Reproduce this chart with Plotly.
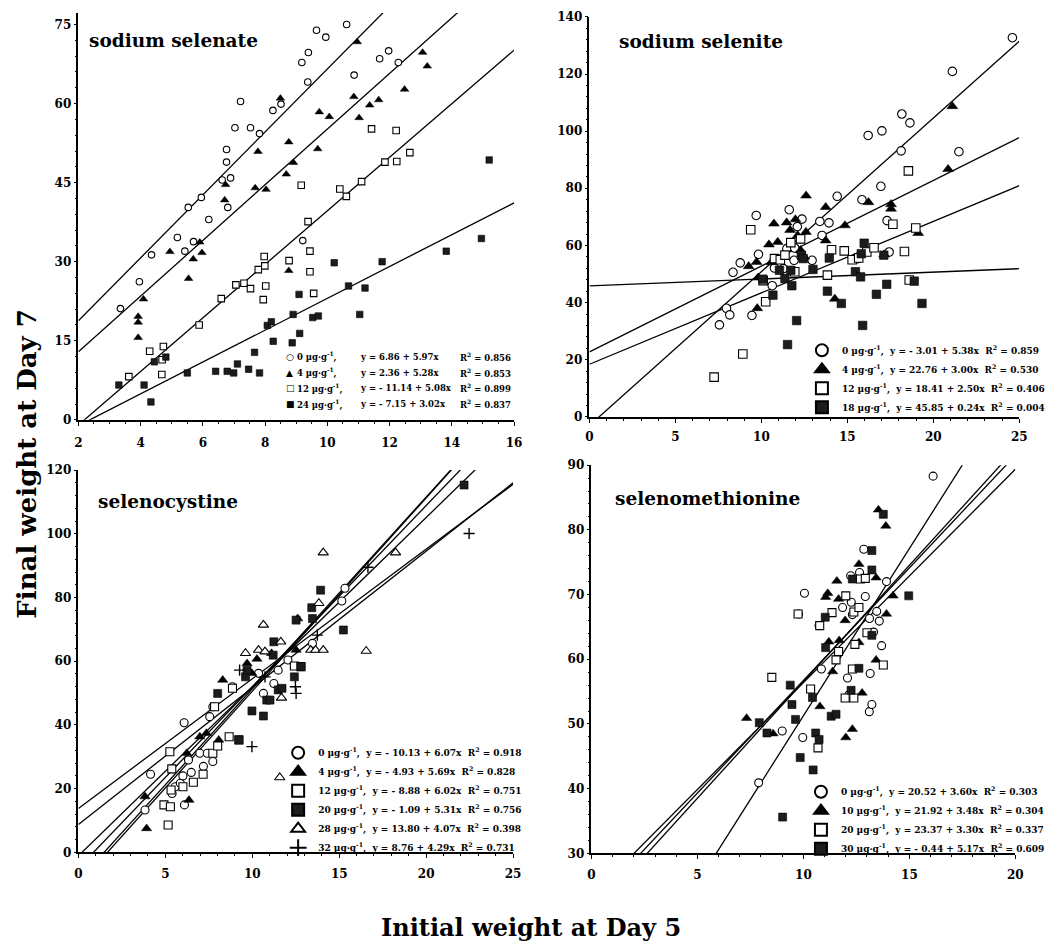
import plotly.graph_objects as go

FONT = "DejaVu Serif"
W, H = 1050, 951

# ---------------- Panel A: sodium selenate ----------------
A_doses = ["0", "4", "12", "24"]
A_intercepts = [6.86, 2.36, -11.14, -7.15]
A_slopes = [5.97, 5.28, 5.08, 3.02]
A_r2 = [0.856, 0.853, 0.899, 0.837]

A_x0 = [3.35, 3.96, 4.35, 5.18, 5.42, 5.53, 5.70, 5.95, 6.19, 6.62, 6.76, 6.76, 6.80, 6.89,
        7.03, 7.21, 7.53, 7.82, 8.25, 8.51, 9.18, 9.37, 9.39, 9.21, 9.65, 9.95, 10.62,
        10.86, 11.68, 11.97, 12.28]
A_y0 = [21.1, 26.2, 31.3, 34.6, 32.0, 40.3, 33.8, 42.2, 38.0, 45.5, 48.9, 51.3, 40.3, 45.9,
        55.4, 60.4, 55.4, 54.3, 58.7, 59.9, 67.8, 64.1, 69.7, 34.0, 73.9, 72.6, 75.0,
        65.4, 68.5, 70.0, 67.8]
A_x4 = [3.92, 3.92, 3.92, 4.09, 4.94, 5.54, 5.69, 5.90, 5.97, 6.73, 6.70, 7.68, 7.77, 8.03,
        8.49, 8.68, 8.76, 8.76, 8.91, 9.69, 9.74, 10.06, 10.85, 10.96, 11.02, 11.36, 11.65,
        12.48, 13.06, 13.21]
A_y4 = [15.6, 19.6, 18.5, 22.9, 31.9, 26.8, 30.5, 33.7, 31.7, 44.6, 41.7, 44.0, 50.9, 43.7,
        61.0, 46.6, 52.7, 28.3, 48.8, 51.4, 58.4, 57.5, 61.3, 71.7, 57.3, 59.7, 60.7,
        62.7, 69.7, 67.1]
A_x12 = [3.62, 4.29, 4.68, 4.73, 4.69, 5.88, 6.59, 7.06, 7.32, 7.53, 7.78, 7.94, 7.97, 7.99,
         8.02, 8.77, 9.16, 9.38, 9.44, 9.44, 9.56, 10.40, 10.61, 11.10, 11.42, 11.85, 12.21,
         12.23, 12.65]
A_y12 = [8.2, 13.0, 8.6, 13.9, 11.4, 18.0, 23.0, 25.6, 25.9, 24.9, 28.5, 22.8, 31.0, 29.2,
         25.4, 30.2, 44.5, 37.6, 32.0, 28.1, 24.0, 43.8, 42.4, 45.2, 55.2, 48.9, 54.9,
         49.0, 50.7]
A_x24 = [3.30, 4.11, 4.33, 4.44, 4.81, 5.50, 6.41, 6.78, 6.99, 7.11, 7.47, 7.66, 7.82, 8.07,
         8.20, 8.26, 8.87, 8.90, 9.09, 9.11, 9.53, 9.71, 10.22, 10.68, 11.04, 11.21, 11.76,
         13.82, 14.95, 15.20]
A_y24 = [6.6, 6.6, 3.4, 11.0, 11.9, 8.9, 9.2, 9.2, 8.9, 10.6, 9.6, 12.8, 8.9, 17.9,
         18.6, 14.9, 14.6, 20.0, 23.8, 16.4, 19.4, 19.7, 29.8, 25.4, 20.0, 25.0, 30.0,
         32.0, 34.4, 49.3]

# ---------------- Panel B: sodium selenite ----------------
B_doses = ["0", "4", "12", "18"]
B_intercepts = [-3.01, 22.76, 18.41, 45.85]
B_slopes = [5.38, 3.00, 2.50, 0.24]
B_r2 = [0.859, 0.530, 0.406, 0.004]

B_x0 = [7.56, 7.97, 8.16, 8.35, 8.77, 9.45, 9.70, 9.83, 10.63, 10.76, 11.28, 11.62, 11.90,
        12.09, 12.36, 11.48, 11.94, 12.95, 13.40, 13.53, 13.93, 14.41, 15.62, 15.85, 16.21,
        16.95, 17.01, 17.31, 17.43, 18.13, 18.17, 18.64, 21.11, 21.49, 24.60]
B_y0 = [32.2, 38.0, 35.7, 50.6, 53.9, 35.5, 70.5, 56.9, 45.9, 52.1, 51.9, 72.5, 54.8,
        66.6, 69.2, 58.9, 59.1, 54.8, 68.4, 63.5, 67.9, 77.2, 55.4, 76.0, 98.5,
        80.7, 100.1, 68.7, 57.7, 93.1, 106.0, 102.9, 120.9, 92.8, 132.7]
B_x4 = [9.26, 9.72, 9.76, 9.81, 10.44, 10.73, 10.58, 10.95, 11.47, 11.67, 11.98, 12.11,
        12.28, 12.49, 12.60, 12.59, 13.74, 13.74, 14.27, 14.86, 16.23, 17.14, 17.54, 17.54,
        19.12, 20.86, 21.11]
B_y4 = [52.7, 54.2, 38.0, 48.7, 60.3, 67.6, 54.1, 61.2, 68.0, 65.4, 69.1, 63.5,
        58.3, 56.0, 77.4, 64.7, 73.4, 61.7, 41.3, 67.0, 75.1, 56.8, 72.8, 74.4,
        64.3, 86.7, 108.7]
B_x12 = [7.25, 8.92, 9.38, 10.10, 10.25, 10.76, 11.10, 11.37, 11.71, 11.94, 12.28, 13.84,
         14.08, 14.82, 15.28, 15.66, 16.13, 16.55, 17.65, 18.32, 18.55, 18.60, 18.98]
B_y12 = [13.9, 22.0, 65.5, 47.7, 40.3, 55.4, 55.0, 56.6, 61.0, 50.8, 62.3, 49.6,
         58.5, 58.1, 55.0, 55.6, 57.7, 59.2, 67.4, 57.9, 86.1, 47.9, 66.1]
B_x18 = [10.08, 10.67, 11.05, 11.37, 11.52, 11.71, 11.77, 12.05, 12.32, 12.43, 13.00, 13.84,
         13.95, 14.65, 15.47, 15.77, 15.89, 15.98, 15.81, 16.69, 17.12, 17.29, 18.89, 19.34]
B_y18 = [48.2, 42.6, 51.3, 48.4, 25.3, 51.3, 45.9, 33.7, 56.6, 55.4, 51.6, 44.0,
         55.6, 39.7, 50.8, 49.0, 32.0, 60.8, 57.1, 42.9, 56.6, 46.4, 47.5, 39.7]

# ---------------- Panel C: selenocystine ----------------
C_doses = ["0", "4", "12", "20", "28", "32"]
C_intercepts = [-10.13, -4.93, -8.88, -1.09, 13.80, 8.76]
C_slopes = [6.07, 5.69, 6.02, 5.31, 4.07, 4.29]
C_r2 = [0.918, 0.828, 0.751, 0.756, 0.398, 0.731]

C_x0 = [3.83, 4.15, 5.39, 5.57, 5.86, 6.01, 6.08, 6.10, 6.49, 6.33, 6.98, 7.19, 7.41, 7.73,
        7.55, 7.73, 8.86, 10.36, 10.64, 11.24, 11.49, 12.05, 13.46, 15.15, 15.33]
C_y0 = [13.3, 24.5, 18.5, 20.6, 21.7, 24.0, 40.7, 14.9, 25.1, 29.0, 31.1, 27.0, 31.1, 28.5,
        42.6, 45.7, 52.0, 56.2, 49.9, 53.0, 57.2, 60.4, 65.6, 78.9, 82.9]
C_x4 = [3.83, 3.92, 6.36, 6.23, 6.98, 7.36, 8.07, 8.30, 9.70, 10.27, 9.98, 11.11, 12.61, 12.52]
C_y4 = [17.5, 7.5, 16.4, 31.1, 36.3, 37.4, 35.3, 54.1, 59.3, 60.7, 56.2, 62.5, 73.4, 63.5]
C_x12 = [4.92, 5.29, 5.16, 5.26, 5.37, 5.33, 6.01, 6.61, 7.17, 7.73, 8.01, 7.83, 8.67, 8.86,
         9.23, 12.42, 12.80]
C_y12 = [14.9, 14.3, 8.6, 31.6, 26.2, 19.6, 20.6, 22.0, 24.5, 31.1, 33.4, 45.7, 36.3, 51.5,
         35.3, 58.5, 58.3]
C_x20 = [8.01, 9.23, 9.61, 9.70, 9.98, 10.64, 10.83, 11.02, 11.24, 11.20, 11.49, 11.71, 12.42,
         12.52, 12.80, 13.42, 13.46, 13.93, 15.24, 22.18]
C_y20 = [49.9, 35.3, 55.1, 57.2, 44.4, 42.8, 47.8, 47.8, 66.1, 61.9, 51.0, 51.5, 55.1,
         72.9, 58.3, 76.8, 73.4, 82.3, 69.8, 115.3]
C_x28 = [11.58, 9.61, 10.36, 10.64, 10.73, 11.64, 11.68, 13.36, 13.64, 13.83, 14.08, 14.08,
         16.55, 18.24]
C_y28 = [23.5, 62.5, 63.5, 71.4, 63.0, 66.1, 48.5, 63.5, 63.5, 78.2, 63.5, 94.1,
         63.2, 94.1]
C_x32 = [9.98, 9.27, 12.52, 12.48, 16.65, 22.47, 13.74, 10.73]
C_y32 = [33.2, 57.2, 49.9, 52.0, 89.5, 100.1, 68.2, 55.1]

# ---------------- Panel D: selenomethionine ----------------
D_doses = ["0", "10", "20", "30"]
D_intercepts = [20.52, 21.92, 23.37, -0.44]
D_slopes = [3.60, 3.48, 3.30, 5.17]
D_r2 = [0.303, 0.304, 0.337, 0.609]

D_x0 = [7.89, 9.00, 9.77, 9.97, 10.05, 10.74, 10.85, 11.85, 12.08, 12.15, 12.23, 12.26, 12.31,
        12.65, 12.85, 12.92, 13.12, 13.15, 13.11, 13.23, 13.31, 13.46, 13.58, 13.69, 13.92,
        16.12]
D_y0 = [40.9, 48.9, 67.0, 47.9, 70.2, 65.2, 58.5, 68.0, 57.1, 54.5, 72.9, 68.8, 66.9,
        73.4, 77.0, 69.7, 66.3, 57.8, 51.9, 53.0, 64.2, 67.4, 65.9, 62.1, 72.0, 88.3]
D_x10 = [7.32, 8.57, 10.78, 11.05, 11.15, 11.20, 11.38, 11.58, 11.66, 11.69, 11.97, 12.00,
         12.31, 12.62, 12.77, 13.43, 13.54, 13.89, 13.92, 14.23, 13.43, 12.62]
D_y10 = [50.9, 48.5, 52.7, 69.6, 70.2, 62.7, 58.1, 72.1, 69.3, 62.9, 66.0, 47.9,
         49.2, 74.7, 54.8, 59.9, 83.1, 80.6, 67.0, 69.8, 72.6, 62.6]
D_x20 = [8.51, 9.75, 10.34, 10.69, 10.77, 11.35, 11.54, 11.66, 12.00, 11.97, 12.31, 12.38,
         12.43, 12.38, 12.62, 12.69, 12.92, 13.00, 13.77]
D_y20 = [57.2, 67.0, 55.4, 46.3, 65.2, 67.2, 59.9, 61.2, 69.8, 54.0, 58.5, 54.0,
         62.3, 67.3, 68.0, 72.4, 72.5, 64.1, 59.1]
D_x30 = [7.92, 8.28, 9.02, 9.38, 9.46, 9.63, 9.85, 10.43, 10.46, 10.58, 10.74, 11.03, 11.05,
         11.31, 11.54, 12.25, 12.31, 12.62, 13.23, 13.23, 13.23, 13.77, 14.97]
D_y30 = [50.2, 48.6, 35.6, 56.0, 53.0, 50.7, 44.8, 54.1, 42.9, 48.6, 47.6, 66.5, 61.8,
         51.2, 51.5, 55.2, 72.4, 58.6, 63.7, 73.8, 76.8, 82.4, 69.8]

# ---------------- text ----------------
TITLES = ["sodium selenate", "sodium selenite", "selenocystine", "selenomethionine"]
Y_TITLE = "Final weight at Day 7"
X_TITLE = "Initial weight at Day 5"

# ---------------- styling ----------------
STY = {
    "oc": dict(symbol="circle", color="white", line=dict(color="black", width=1.1)),
    "ft": dict(symbol="triangle-up", color="black", line=dict(color="black", width=0.5)),
    "os": dict(symbol="square", color="white", line=dict(color="black", width=1.1)),
    "fs": dict(symbol="square", color="#1c1c1c", line=dict(color="black", width=0.6)),
    "ot": dict(symbol="triangle-up", color="white", line=dict(color="black", width=1.1)),
    "pl": dict(symbol="cross-thin", color="black", line=dict(color="black", width=1.4)),
}

NB = "\u00a0"


def eq_text(a, b):
    s = f"-{NB}" if a < 0 else ""
    return f"y{NB}={NB}{s}{abs(a):.2f}{NB}+{NB}{b:.2f}x"


def label(dose):
    return f"{dose}{NB}µg·g<sup>-1</sup>,"


def r2_text(r):
    return f"R<sup>2</sup>{NB}={NB}{r:.3f}"


fig = go.Figure()

panels = [
    dict(ax="", doses=A_doses, a=A_intercepts, b=A_slopes, r2=A_r2, xr=[2, 16],
         series=[(A_x0, A_y0, "oc"), (A_x4, A_y4, "ft"), (A_x12, A_y12, "os"), (A_x24, A_y24, "fs")],
         size=6.5, legend=None),
    dict(ax="2", doses=B_doses, a=B_intercepts, b=B_slopes, r2=B_r2, xr=[0, 25],
         series=[(B_x0, B_y0, "oc"), (B_x4, B_y4, "ft"), (B_x12, B_y12, "os"), (B_x18, B_y18, "fs")],
         size=8.5, legend="legend2"),
    dict(ax="3", doses=C_doses, a=C_intercepts, b=C_slopes, r2=C_r2, xr=[0, 25],
         series=[(C_x0, C_y0, "oc"), (C_x4, C_y4, "ft"), (C_x12, C_y12, "os"), (C_x20, C_y20, "fs"),
                 (C_x28, C_y28, "ot"), (C_x32, C_y32, "pl")],
         size=8, legend="legend3"),
    dict(ax="4", doses=D_doses, a=D_intercepts, b=D_slopes, r2=D_r2, xr=[0, 20],
         series=[(D_x0, D_y0, "oc"), (D_x10, D_y10, "ft"), (D_x20, D_y20, "os"), (D_x30, D_y30, "fs")],
         size=8, legend="legend4"),
]

for p in panels:
    xa, ya = "x" + p["ax"], "y" + p["ax"]
    # regression lines
    for a, b in zip(p["a"], p["b"]):
        xs = p["xr"]
        ys = [a + b * x for x in xs]
        fig.add_trace(go.Scatter(x=xs, y=ys, mode="lines", xaxis=xa, yaxis=ya,
                                 line=dict(color="black", width=1.3), showlegend=False,
                                 hoverinfo="skip"))
    # points
    for i, (xs, ys, st) in enumerate(p["series"]):
        s = STY[st]
        name = f"{label(p['doses'][i])}{NB}{NB}{eq_text(p['a'][i], p['b'][i])}{NB}{NB}{r2_text(p['r2'][i])}"
        kw = dict(legend=p["legend"], showlegend=True) if p["legend"] else dict(showlegend=False)
        fig.add_trace(go.Scatter(
            x=xs, y=ys, mode="markers", xaxis=xa, yaxis=ya, name=name,
            marker=dict(symbol=s["symbol"], color=s["color"], line=s["line"],
                        size=p["size"] + (1 if st in ("ft", "ot") else 0)),
            **kw))


def px_x(px):
    return px / W


def px_y(py):
    return 1 - py / H


tickfont = dict(family=FONT, size=12, color="black", weight="bold")


def axis(domain, rng, dtick, anchor, is_x, minor_dtick, standoff=5):
    d = dict(domain=domain, range=rng, dtick=dtick,
             anchor=anchor, showline=True, linecolor="black", linewidth=1.5,
             ticks="outside", ticklen=4 if is_x else 3, tickwidth=1.2, tickcolor="black",
             showgrid=False, zeroline=False, tickfont=tickfont, fixedrange=True,
             minor=dict(ticks="outside", ticklen=2, tickwidth=1, tickcolor="black", dtick=minor_dtick,
                        showgrid=False))
    if not is_x:
        d["tick0"] = rng[0]
    else:
        d["ticklabelstandoff"] = standoff
    return d


layout = dict(
    width=W, height=H, margin=dict(l=0, r=0, t=0, b=0),
    paper_bgcolor="white", plot_bgcolor="white",
    font=dict(family=FONT, color="black"),
    xaxis=axis([px_x(76), px_x(521)], [2, 16], 2, "y", True, 0.5, standoff=7),
    yaxis=axis([px_y(419), px_y(6)], [0, 77.2], 15, "x", False, 3),
    xaxis2=axis([px_x(598), px_x(1037)], [0, 25], 5, "y2", True, 1, standoff=4),
    yaxis2=axis([px_y(416), px_y(10)], [0, 140], 20, "x2", False, 4),
    xaxis3=axis([px_x(76), px_x(520)], [0, 25], 5, "y3", True, 1, standoff=5),
    yaxis3=axis([px_y(858), px_y(470)], [0, 120], 20, "x3", False, 4),
    xaxis4=axis([px_x(600), px_x(1033)], [0, 20], 5, "y4", True, 1, standoff=5),
    yaxis4=axis([px_y(859), px_y(465)], [30, 90], 10, "x4", False, 2),
    showlegend=True,
)

legfont = dict(family=FONT, size=9, color="black", weight="bold")
common_leg = dict(xanchor="left", yanchor="bottom", bgcolor="rgba(0,0,0,0)", font=legfont,
                  itemsizing="constant", tracegroupgap=0, borderwidth=0)
layout["legend2"] = dict(x=px_x(815), y=px_y(421), **common_leg)
layout["legend3"] = dict(x=px_x(280), y=px_y(868), **common_leg)
layout["legend4"] = dict(x=px_x(814), y=px_y(869), **common_leg)
layout["legend"] = dict(visible=False)

fig.update_layout(**layout)

annots = []
# panel titles
title_pos = [(85, 34), (626, 35), (94, 502), (622, 499)]
for t, (x, y) in zip(TITLES, title_pos):
    annots.append(dict(text=t, x=px_x(x), y=px_y(y), xref="paper", yref="paper",
                       xanchor="left", yanchor="middle", showarrow=False,
                       font=dict(family=FONT, size=18.5, color="black", weight="bold")))

# panel A legend as text rows
glyphs = ["○", "▲", "□", "■"]
rows_y = [355, 371, 387, 403]
small = dict(family=FONT, size=8.5, color="black", weight="bold")
for i in range(4):
    y = px_y(rows_y[i])
    annots.append(dict(text=glyphs[i], x=px_x(286), y=y, xref="paper", yref="paper",
                       xanchor="left", yanchor="middle", showarrow=False,
                       font=dict(family="DejaVu Sans", size=9, color="black")))
    annots.append(dict(text=label(A_doses[i]), x=px_x(297), y=y, xref="paper", yref="paper",
                       xanchor="left", yanchor="middle", showarrow=False, font=small))
    annots.append(dict(text=eq_text(A_intercepts[i], A_slopes[i]), x=px_x(362), y=y,
                       xref="paper", yref="paper", xanchor="left", yanchor="middle",
                       showarrow=False, font=small))
    annots.append(dict(text=r2_text(A_r2[i]), x=px_x(464), y=y, xref="paper", yref="paper",
                       xanchor="left", yanchor="middle", showarrow=False, font=small))

# global axis titles
annots.append(dict(text=Y_TITLE, x=px_x(24), y=px_y(463), xref="paper", yref="paper",
                   xanchor="center", yanchor="middle", textangle=-90, showarrow=False,
                   font=dict(family=FONT, size=26, color="black", weight="bold")))
annots.append(dict(text=X_TITLE, x=px_x(538), y=px_y(934), xref="paper", yref="paper",
                   xanchor="center", yanchor="middle", showarrow=False,
                   font=dict(family=FONT, size=24, color="black", weight="bold")))

fig.update_layout(annotations=annots)

fig.write_html("out.html")
